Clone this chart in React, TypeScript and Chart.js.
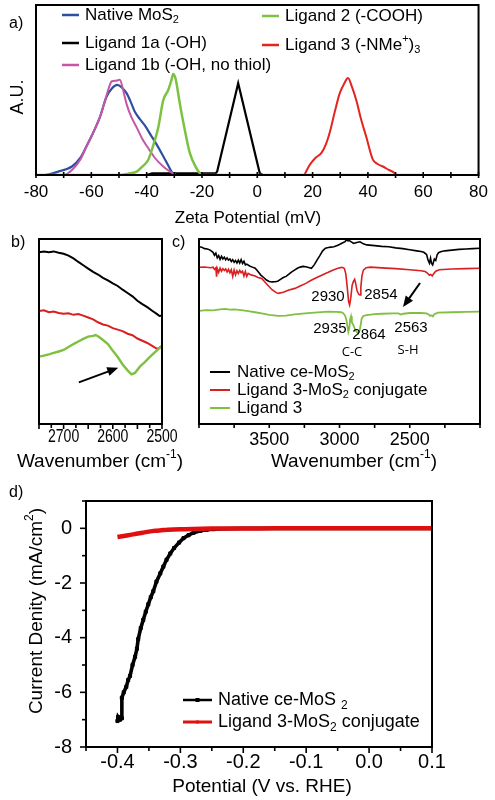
import React, { useEffect, useRef } from 'react';
import { Chart, registerables } from 'chart.js';
Chart.register(...registerables);

const FONT = '"Liberation Sans", Arial, Helvetica, sans-serif';
const NOTE_FONT = '"Open Sans", "Liberation Sans", sans-serif';

// ---------------- panel a : zeta potential ----------------
const zetaTicks = [-80, -70, -60, -50, -40, -30, -20, -10, 0, 10, 20, 30, 40, 50, 60, 70, 80];
const zetaLabels = [-80, -60, -40, -20, 0, 20, 40, 60, 80];
const zetaNames = ['Native MoS_{2}', 'Ligand 1a (-OH)', 'Ligand 1b (-OH, no thiol)', 'Ligand 2 (-COOH)', 'Ligand 3 (-NMe^{+})_{3}'];
const zetaColors = ['#2e4f9e', '#000000', '#c457a6', '#7cc242', '#e3241f'];

const zetaNativeX = [-80, -77, -72, -67, -64, -61.7, -59, -56.9, -54.5, -52.5, -50.6, -49, -47.2, -45.5, -44.2, -42.5, -40.6, -38.5, -36.4, -34, -32, -31, -30, 80];
const zetaNativeY = [0, 0, 0.02, 0.05, 0.1, 0.17, 0.26, 0.34, 0.46, 0.51, 0.53, 0.515, 0.48, 0.42, 0.37, 0.33, 0.29, 0.235, 0.18, 0.11, 0.05, 0.02, 0, 0];
const zeta1aX = [-40, -38, -20, -15, -14.5, -6.9, 0.9, 2, 80];
const zeta1aY = [0, 0.01, 0.01, 0.01, 0.02, 0.54, 0.01, 0, 0];
const zeta1bX = [-80, -70, -67, -64, -61.7, -59, -56.9, -55, -53.3, -52.7, -51, -49.7, -48.5, -47.3, -45.5, -43.6, -41.5, -39.5, -37, -34, -32, -30.5, -29, 80];
const zeta1bY = [0, 0, 0.03, 0.09, 0.17, 0.26, 0.34, 0.44, 0.53, 0.55, 0.555, 0.56, 0.5, 0.42, 0.34, 0.28, 0.21, 0.16, 0.1, 0.05, 0.025, 0.01, 0, 0];
const zeta2X = [-80, -50, -46, -43.6, -41.5, -39.4, -37.5, -35.8, -34, -32.2, -31, -30.4, -29.6, -29.2, -28, -26.2, -24.4, -22, -20.8, -20, 60];
const zeta2Y = [0, 0, 0.01, 0.02, 0.05, 0.09, 0.18, 0.28, 0.44, 0.5, 0.56, 0.594, 0.57, 0.54, 0.42, 0.265, 0.13, 0.04, 0.01, 0, 0];
const zeta3X = [17, 19, 21, 23.2, 24.8, 26.2, 28, 29.8, 31.5, 32.8, 34.2, 35.8, 37.5, 39.4, 41.8, 43.5, 45.4, 47.5, 49.7, 50];
const zeta3Y = [0, 0.06, 0.1, 0.13, 0.18, 0.25, 0.37, 0.48, 0.54, 0.57, 0.52, 0.44, 0.33, 0.225, 0.09, 0.065, 0.05, 0.03, 0.01, 0];

// ---------------- panel b : IR zoom 2750-2500 ----------------
const bTicks = [2750, 2725, 2700, 2675, 2650, 2625, 2600, 2575, 2550, 2525, 2500];
const bLabels = [2700, 2600, 2500];
const bBlackX = [2750, 2740, 2730, 2720, 2710, 2700, 2690, 2680, 2670, 2660, 2650, 2640, 2630, 2620, 2610, 2600, 2590, 2580, 2570, 2560, 2550, 2540, 2530, 2520, 2510, 2505, 2500];
const bBlackY = [92.8, 93.2, 92.9, 93.3, 92.6, 92.0, 91.0, 89.5, 87.6, 85.8, 84.0, 82.2, 80.8, 79.0, 77.6, 76.0, 74.6, 72.6, 70.8, 69.0, 66.6, 64.8, 63.2, 61.2, 59.4, 58.4, 58.6];
const bRedX = [2750, 2740, 2730, 2720, 2710, 2700, 2690, 2680, 2670, 2660, 2650, 2640, 2630, 2620, 2610, 2600, 2590, 2580, 2570, 2560, 2550, 2540, 2530, 2520, 2510, 2505, 2500];
const bRedY = [61.1, 61.5, 60.4, 60.8, 60.0, 59.6, 59.8, 59.0, 59.4, 58.6, 57.6, 56.6, 55.0, 53.8, 53.2, 51.8, 51.0, 50.2, 48.8, 48.0, 46.2, 45.0, 43.8, 42.2, 40.6, 41.2, 42.3];
const bGreenX = [2750, 2740, 2730, 2720, 2710, 2700, 2690, 2680, 2670, 2660, 2650, 2640, 2635, 2630, 2620, 2610, 2600, 2590, 2580, 2570, 2562, 2555, 2545, 2535, 2524, 2512, 2500];
const bGreenY = [36.4, 37.0, 37.6, 38.4, 39.2, 40.0, 41.6, 43.2, 44.6, 46.0, 47.2, 47.6, 48.1, 47.4, 45.4, 43.2, 39.6, 36.2, 32.2, 29.0, 26.8, 27.6, 31.0, 33.4, 36.4, 39.4, 42.3];
const bArrow = { fromX: 2669, fromY: 22.5, toX: 2589, toY: 30.4 };

// ---------------- panel c : full IR 4000-2000 ----------------
const cTicks = [4000, 3750, 3500, 3250, 3000, 2750, 2500, 2250, 2000];
const cLabels = [3500, 3000, 2500];
const cNames = ['Native ce-MoS_{2}', 'Ligand 3-MoS_{2} conjugate', 'Ligand 3'];
const cColors = ['#000000', '#d91f1f', '#80c040'];
const cBlackX = [4000, 3980, 3960, 3940, 3920, 3900, 3890, 3880, 3870, 3860, 3850, 3840, 3830, 3820, 3810, 3800, 3790, 3780, 3770, 3760, 3750, 3740, 3730, 3720, 3710, 3700, 3690, 3680, 3670, 3660, 3640, 3620, 3600, 3580, 3560, 3540, 3520, 3500, 3480, 3460, 3440, 3420, 3400, 3380, 3360, 3340, 3320, 3300, 3280, 3260, 3240, 3220, 3200, 3180, 3160, 3140, 3120, 3100, 3080, 3060, 3040, 3020, 3000, 2980, 2960, 2950, 2940, 2935, 2925, 2910, 2900, 2890, 2870, 2854, 2830, 2806, 2750, 2700, 2650, 2600, 2550, 2500, 2450, 2420, 2400, 2380, 2370, 2360, 2352, 2345, 2337, 2325, 2315, 2305, 2295, 2280, 2250, 2200, 2150, 2100, 2050, 2000];
const cBlackY = [95.8, 95.5, 94.8, 94.6, 94.0, 92.8, 91.2, 92.4, 89.8, 91.0, 89.0, 90.6, 89.2, 90.2, 88.8, 89.8, 88.6, 89.2, 87.8, 88.8, 87.4, 88.4, 87.0, 88.6, 87.0, 88.8, 86.8, 88.0, 86.0, 86.4, 85.4, 84.8, 84.2, 82.4, 80.5, 79.2, 77.8, 77.0, 76.8, 76.9, 77.2, 78.2, 79.2, 79.8, 81.0, 82.2, 83.2, 84.2, 84.8, 85.2, 85.0, 84.6, 84.2, 86.0, 88.6, 91.0, 93.6, 95.0, 95.4, 95.6, 95.8, 96.4, 97.0, 97.8, 98.6, 99.6, 99.0, 100.4, 98.8, 98.2, 97.6, 97.8, 98.2, 98.5, 97.4, 96.8, 96.4, 96.0, 95.8, 95.2, 94.8, 94.2, 93.6, 93.2, 92.8, 91.6, 88.6, 86.9, 89.6, 86.8, 86.0, 89.2, 88.4, 91.4, 92.6, 93.1, 93.6, 94.0, 94.4, 94.6, 94.8, 95.0];
const cRedX = [4000, 3960, 3920, 3900, 3890, 3880, 3875, 3870, 3860, 3850, 3840, 3830, 3820, 3810, 3800, 3790, 3780, 3770, 3760, 3750, 3740, 3730, 3720, 3710, 3700, 3690, 3680, 3670, 3660, 3650, 3630, 3600, 3580, 3554, 3520, 3480, 3450, 3436, 3400, 3360, 3317, 3280, 3240, 3198, 3150, 3100, 3080, 3040, 3000, 2980, 2965, 2955, 2945, 2935, 2928, 2920, 2910, 2900, 2892, 2885, 2875, 2862, 2854, 2848, 2840, 2830, 2810, 2780, 2700, 2600, 2500, 2420, 2390, 2375, 2360, 2350, 2340, 2330, 2315, 2290, 2200, 2100, 2000];
const cRedY = [84.7, 84.9, 84.5, 84.8, 83.6, 84.4, 79.6, 84.0, 82.0, 84.2, 82.6, 84.0, 83.0, 83.8, 82.2, 83.6, 81.8, 83.4, 79.8, 83.2, 80.6, 82.8, 81.4, 83.0, 81.8, 82.6, 80.0, 82.4, 79.8, 81.4, 80.6, 80.0, 79.2, 78.7, 75.8, 72.6, 71.0, 70.6, 71.2, 72.4, 73.3, 74.6, 76.0, 77.8, 79.6, 81.4, 82.0, 83.4, 84.4, 84.7, 84.0, 81.0, 74.0, 66.0, 64.3, 68.0, 75.0, 77.2, 78.2, 76.0, 72.0, 70.0, 69.7, 74.0, 80.2, 83.2, 84.5, 84.8, 84.4, 84.0, 83.4, 82.8, 82.4, 81.6, 80.4, 80.8, 80.0, 81.2, 82.6, 83.4, 83.8, 84.0, 84.2];
const cGreenX = [4000, 3950, 3900, 3850, 3815, 3780, 3750, 3700, 3650, 3600, 3554, 3500, 3436, 3380, 3320, 3246, 3180, 3080, 3020, 2990, 2975, 2960, 2950, 2942, 2937, 2930, 2924, 2918, 2912, 2902, 2890, 2876, 2866, 2856, 2848, 2842, 2830, 2806, 2750, 2700, 2620, 2580, 2563, 2545, 2500, 2420, 2380, 2365, 2356, 2345, 2335, 2325, 2300, 2200, 2100, 2000];
const cGreenY = [61.1, 61.6, 61.4, 62.0, 62.2, 61.8, 62.0, 61.6, 61.0, 60.4, 59.8, 59.0, 58.4, 58.6, 59.2, 59.8, 60.2, 60.7, 60.6, 60.4, 60.0, 58.6, 56.0, 52.0, 49.9, 52.0, 56.6, 58.2, 55.0, 53.6, 51.2, 49.6, 49.0, 50.8, 54.0, 57.1, 58.4, 58.9, 59.4, 59.6, 59.8, 59.8, 59.2, 59.6, 60.0, 60.0, 59.8, 59.2, 58.4, 58.8, 58.2, 59.4, 60.2, 60.4, 60.6, 60.7];
const cNotes = [
  { text: '2930', x: 3082, y: 68.6 },
  { text: '2854', x: 2705, y: 69.7 },
  { text: '2935', x: 3068, y: 51.4 },
  { text: '2864', x: 2790, y: 48.1 },
  { text: '2563', x: 2491, y: 51.9 },
];
const cBondNotes = [
  { text: 'C-C', x: 2911, y: 38.9 },
  { text: 'S-H', x: 2512, y: 40.0 },
];
const cArrow = { fromX: 2427, fromY: 76.2, toX: 2548, toY: 63.2 };

// ---------------- panel d : polarization curves ----------------
const dTicksX = [-0.45, -0.4, -0.35, -0.3, -0.25, -0.2, -0.15, -0.1, -0.05, 0, 0.05, 0.1];
const dTicksY = [-8, -7, -6, -5, -4, -3, -2, -1, 0, 1];
const dNames = ['Native ce-MoS _{2}', 'Ligand 3-MoS_{2} conjugate'];
const dColors = ['#000000', '#e01010'];
const dNativeX = [-0.4, -0.399, -0.396, -0.393, -0.393, -0.39, -0.386, -0.383, -0.38, -0.376, -0.372, -0.369, -0.367, -0.363, -0.359, -0.355, -0.351, -0.347, -0.343, -0.338, -0.332, -0.327, -0.322, -0.316, -0.31, -0.302, -0.295, -0.287, -0.279, -0.268, -0.258, -0.247, -0.237, -0.22, -0.2, -0.15, -0.1, -0.05, 0, 0.05, 0.1];
const dNativeY = [-7.05, -6.9, -7.0, -6.95, -6.2, -6.0, -5.8, -5.55, -5.4, -5.0, -4.7, -4.4, -4.05, -3.65, -3.35, -3.05, -2.78, -2.52, -2.3, -1.95, -1.65, -1.4, -1.15, -0.92, -0.72, -0.52, -0.36, -0.25, -0.16, -0.09, -0.05, -0.03, -0.02, -0.01, 0, 0, 0, 0, 0, 0, 0];
const dLigX = [-0.4, -0.39, -0.38, -0.37, -0.36, -0.35, -0.34, -0.33, -0.32, -0.3, -0.28, -0.25, -0.2, -0.15, -0.1, -0.05, 0, 0.05, 0.1];
const dLigY = [-0.32, -0.28, -0.24, -0.2, -0.16, -0.12, -0.09, -0.07, -0.05, -0.03, -0.02, -0.01, -0.01, 0, 0, 0, 0, 0, 0];

// ---------------- helpers ----------------
type Seg = { t: string; s?: 'sub' | 'sup' };
function parseRich(str: string): Seg[] {
  const out: Seg[] = [];
  const re = /([_^])\{([^}]*)\}/g;
  let last = 0;
  let m: RegExpExecArray | null;
  while ((m = re.exec(str))) {
    if (m.index > last) out.push({ t: str.slice(last, m.index) });
    out.push({ t: m[2], s: m[1] === '_' ? 'sub' : 'sup' });
    last = re.lastIndex;
  }
  if (last < str.length) out.push({ t: str.slice(last) });
  return out;
}
function drawRich(ctx: CanvasRenderingContext2D, str: string, x: number, y: number, size: number, align: 'left' | 'center' = 'left', family = FONT, sx = 1) {
  const segs = parseRich(str);
  ctx.save();
  ctx.fillStyle = '#000';
  ctx.textBaseline = 'middle';
  ctx.textAlign = 'left';
  const widths = segs.map((sg) => {
    ctx.font = `${sg.s ? Math.round(size * 0.65) : size}px ${family}`;
    return ctx.measureText(sg.t).width;
  });
  const total = widths.reduce((a, b) => a + b, 0);
  ctx.translate(x, y);
  ctx.scale(sx, 1);
  let cx = align === 'center' ? -total / 2 : 0;
  segs.forEach((sg, i) => {
    ctx.font = `${sg.s ? Math.round(size * 0.65) : size}px ${family}`;
    const dy = sg.s === 'sub' ? size * 0.3 : sg.s === 'sup' ? -size * 0.36 : 0;
    ctx.fillText(sg.t, cx, dy);
    cx += widths[i];
  });
  ctx.restore();
}
function drawRotated(ctx: CanvasRenderingContext2D, str: string, x: number, y: number, size: number) {
  ctx.save();
  ctx.translate(x, y);
  ctx.rotate(-Math.PI / 2);
  drawRich(ctx, str, 0, 0, size, 'center');
  ctx.restore();
}
function drawFrame(chart: any) {
  const { ctx, chartArea: a } = chart;
  ctx.save();
  ctx.strokeStyle = '#000';
  ctx.lineWidth = 2;
  ctx.strokeRect(a.left, a.top, a.right - a.left, a.bottom - a.top);
  ctx.restore();
}
function drawXTicks(chart: any, isMajor: (v: number) => boolean, major: [number, number], minor: [number, number]) {
  const { ctx, chartArea: a, scales } = chart;
  const s = scales.x;
  ctx.save();
  ctx.strokeStyle = '#000';
  ctx.lineWidth = 1.6;
  s.ticks.forEach((t: any) => {
    const px = s.getPixelForValue(t.value);
    const [up, down] = isMajor(t.value) ? major : minor;
    ctx.beginPath();
    ctx.moveTo(px, a.bottom - up);
    ctx.lineTo(px, a.bottom + down);
    ctx.stroke();
  });
  ctx.restore();
}
function drawYTicks(chart: any, isMajor: (v: number) => boolean, major: number, minor: number) {
  const { ctx, chartArea: a, scales } = chart;
  const s = scales.y;
  ctx.save();
  ctx.strokeStyle = '#000';
  ctx.lineWidth = 1.6;
  s.ticks.forEach((t: any) => {
    const py = s.getPixelForValue(t.value);
    const len = isMajor(t.value) ? major : minor;
    ctx.beginPath();
    ctx.moveTo(a.left, py);
    ctx.lineTo(a.left - len, py);
    ctx.stroke();
  });
  ctx.restore();
}
function drawArrow(ctx: CanvasRenderingContext2D, x1: number, y1: number, x2: number, y2: number) {
  const ang = Math.atan2(y2 - y1, x2 - x1);
  const head = 11;
  const hw = 4.5;
  ctx.save();
  ctx.strokeStyle = '#000';
  ctx.fillStyle = '#000';
  ctx.lineWidth = 2;
  ctx.beginPath();
  ctx.moveTo(x1, y1);
  ctx.lineTo(x2 - Math.cos(ang) * head * 0.8, y2 - Math.sin(ang) * head * 0.8);
  ctx.stroke();
  ctx.beginPath();
  ctx.moveTo(x2, y2);
  ctx.lineTo(x2 - Math.cos(ang) * head - Math.sin(ang) * hw, y2 - Math.sin(ang) * head + Math.cos(ang) * hw);
  ctx.lineTo(x2 - Math.cos(ang) * head + Math.sin(ang) * hw, y2 - Math.sin(ang) * head - Math.cos(ang) * hw);
  ctx.closePath();
  ctx.fill();
  ctx.restore();
}
function legendLine(ctx: CanvasRenderingContext2D, x1: number, x2: number, y: number, color: string, width: number, marker = 0) {
  ctx.save();
  ctx.strokeStyle = color;
  ctx.fillStyle = color;
  ctx.lineWidth = width;
  ctx.beginPath();
  ctx.moveTo(x1, y);
  ctx.lineTo(x2, y);
  ctx.stroke();
  if (marker) ctx.fillRect((x1 + x2) / 2 - marker, y - marker, marker * 2, marker * 2);
  ctx.restore();
}
const pts = (xs: number[], ys: number[]) => xs.map((x, i) => ({ x, y: ys[i] }));
const hidden = { display: false, drawTicks: false };
const noBorder = { display: false };

function baseOptions(padTop: number, padRight: number) {
  return {
    responsive: false,
    animation: false as const,
    events: [] as any[],
    layout: { padding: { top: padTop, right: padRight, left: 0, bottom: 0 } },
    plugins: { legend: { display: false }, tooltip: { enabled: false } },
    elements: { point: { radius: 0 } },
  };
}

// ---------------- chart configs ----------------
function makeA(): any {
  const o: any = baseOptions(5, 16);
  o.scales = {
    x: {
      type: 'linear', min: -80, max: 80,
      afterBuildTicks: (s: any) => { s.ticks = zetaTicks.map((v) => ({ value: v })); },
      afterFit: (s: any) => { s.height = 53; },
      ticks: { autoSkip: false, maxRotation: 0, padding: 7, color: '#000', font: { family: FONT, size: 17 }, callback: (v: any) => (zetaLabels.includes(v) ? String(v) : '') },
      grid: hidden, border: noBorder,
    },
    y: {
      type: 'linear', min: 0, max: 1,
      afterFit: (s: any) => { s.width = 36; },
      ticks: { display: false }, grid: hidden, border: noBorder,
    },
  };
  return {
    type: 'line',
    data: {
      datasets: [
        { data: pts(zeta2X, zeta2Y), borderColor: zetaColors[3], borderWidth: 2.5, cubicInterpolationMode: 'monotone', order: 0 },
        { data: pts(zeta1bX, zeta1bY), borderColor: zetaColors[2], borderWidth: 2, cubicInterpolationMode: 'monotone', order: 1 },
        { data: pts(zetaNativeX, zetaNativeY), borderColor: zetaColors[0], borderWidth: 2.2, cubicInterpolationMode: 'monotone', order: 2 },
        { data: pts(zeta1aX, zeta1aY), borderColor: zetaColors[1], borderWidth: 2.2, tension: 0, order: 3 },
        { data: pts(zeta3X, zeta3Y), borderColor: zetaColors[4], borderWidth: 2, cubicInterpolationMode: 'monotone', order: 4 },
      ],
    },
    options: o,
    plugins: [{
      id: 'overlayA',
      afterDraw(chart: any) {
        const ctx = chart.ctx;
        drawFrame(chart);
        drawXTicks(chart, () => true, [3, 3], [3, 3]);
        drawRich(ctx, 'a)', 9, 24, 16);
        drawRotated(ctx, 'A.U.', 18, 97, 18);
        drawRich(ctx, 'Zeta Potential (mV)', 248, 218, 17, 'center');
        const left = [0, 1, 2];
        const leftY = [15, 43, 65];
        left.forEach((k, i) => {
          legendLine(ctx, 62, 79, leftY[i], zetaColors[k], 2.5);
          drawRich(ctx, zetaNames[k], 85, leftY[i], 17);
        });
        const right = [3, 4];
        const rightY = [16, 45];
        right.forEach((k, i) => {
          legendLine(ctx, 262, 279, rightY[i], zetaColors[k], 2.5);
          drawRich(ctx, zetaNames[k], 285, rightY[i], 17);
        });
      },
    }],
  };
}

function makeB(): any {
  const o: any = baseOptions(11, 38);
  o.scales = {
    x: {
      type: 'linear', min: 2500, max: 2750, reverse: true,
      afterBuildTicks: (s: any) => { s.ticks = bTicks.map((v) => ({ value: v })); },
      afterFit: (s: any) => { s.height = 51; },
      ticks: { display: false }, grid: hidden, border: noBorder,
    },
    y: {
      type: 'linear', min: 0, max: 100,
      afterFit: (s: any) => { s.width = 39; },
      ticks: { display: false }, grid: hidden, border: noBorder,
    },
  };
  return {
    type: 'line',
    data: {
      datasets: [
        { data: pts(bGreenX, bGreenY), borderColor: cColors[2], borderWidth: 2.4, tension: 0 },
        { data: pts(bRedX, bRedY), borderColor: cColors[1], borderWidth: 2, tension: 0 },
        { data: pts(bBlackX, bBlackY), borderColor: cColors[0], borderWidth: 2, tension: 0 },
      ],
    },
    options: o,
    plugins: [{
      id: 'overlayB',
      afterDraw(chart: any) {
        const { ctx, chartArea: a, scales } = chart;
        drawFrame(chart);
        drawXTicks(chart, (v) => v % 50 === 0, [0, 5], [0, 4]);
        bLabels.forEach((v) => {
          drawRich(ctx, String(v), scales.x.getPixelForValue(v), a.bottom + 13, 18, 'center', FONT, 0.78);
        });
        drawRich(ctx, 'b)', 11, 15, 16);
        drawRich(ctx, 'Wavenumber (cm^{-1})', 100, 234, 19, 'center');
        drawArrow(ctx, scales.x.getPixelForValue(bArrow.fromX), scales.y.getPixelForValue(bArrow.fromY), scales.x.getPixelForValue(bArrow.toX), scales.y.getPixelForValue(bArrow.toY));
      },
    }],
  };
}

function makeC(): any {
  const o: any = baseOptions(11, 15);
  o.scales = {
    x: {
      type: 'linear', min: 2000, max: 4000, reverse: true,
      afterBuildTicks: (s: any) => { s.ticks = cTicks.map((v) => ({ value: v })); },
      afterFit: (s: any) => { s.height = 51; },
      ticks: { autoSkip: false, maxRotation: 0, padding: 5, color: '#000', font: { family: FONT, size: 18 }, callback: (v: any) => (cLabels.includes(v) ? String(v) : '') },
      grid: hidden, border: noBorder,
    },
    y: {
      type: 'linear', min: 0, max: 100,
      afterFit: (s: any) => { s.width = 29; },
      ticks: { display: false }, grid: hidden, border: noBorder,
    },
  };
  return {
    type: 'line',
    data: {
      datasets: [
        { data: pts(cBlackX, cBlackY), borderColor: cColors[0], borderWidth: 1.6, tension: 0 },
        { data: pts(cRedX, cRedY), borderColor: cColors[1], borderWidth: 1.6, tension: 0 },
        { data: pts(cGreenX, cGreenY), borderColor: cColors[2], borderWidth: 1.8, tension: 0 },
      ],
    },
    options: o,
    plugins: [{
      id: 'overlayC',
      afterDraw(chart: any) {
        const { ctx, scales } = chart;
        drawFrame(chart);
        drawXTicks(chart, () => true, [0, 4], [0, 4]);
        drawRich(ctx, 'c)', 2, 15, 16);
        drawRich(ctx, 'Wavenumber (cm^{-1})', 184, 234, 19, 'center');
        cNotes.forEach((n) => drawRich(ctx, n.text, scales.x.getPixelForValue(n.x), scales.y.getPixelForValue(n.y), 15, 'center'));
        cBondNotes.forEach((n) => drawRich(ctx, n.text, scales.x.getPixelForValue(n.x), scales.y.getPixelForValue(n.y), 13, 'center', NOTE_FONT));
        drawArrow(ctx, scales.x.getPixelForValue(cArrow.fromX), scales.y.getPixelForValue(cArrow.fromY), scales.x.getPixelForValue(cArrow.toX), scales.y.getPixelForValue(cArrow.toY));
        const rows = [144, 162, 180];
        cNames.forEach((name, i) => {
          legendLine(ctx, 40, 60, rows[i], cColors[i], 2);
          drawRich(ctx, name, 67, rows[i], 17);
        });
      },
    }],
  };
}

function makeD(): any {
  const o: any = baseOptions(15, 63);
  const isTenth = (v: number) => Math.abs(v * 10 - Math.round(v * 10)) < 1e-6;
  o.scales = {
    x: {
      type: 'linear', min: -0.45, max: 0.1,
      afterBuildTicks: (s: any) => { s.ticks = dTicksX.map((v) => ({ value: v })); },
      afterFit: (s: any) => { s.height = 53; },
      ticks: { autoSkip: false, maxRotation: 0, padding: 3, color: '#000', font: { family: FONT, size: 20 }, callback: (v: any) => (isTenth(v) ? Number(v).toFixed(1) : '') },
      grid: hidden, border: noBorder,
    },
    y: {
      type: 'linear', min: -8, max: 1,
      afterBuildTicks: (s: any) => { s.ticks = dTicksY.map((v) => ({ value: v })); },
      afterFit: (s: any) => { s.width = 86; },
      ticks: { autoSkip: false, padding: 14, color: '#000', font: { family: FONT, size: 20 }, callback: (v: any) => (v % 2 === 0 && v <= 0 ? String(v) : '') },
      grid: hidden, border: noBorder,
    },
  };
  return {
    type: 'line',
    data: {
      datasets: [
        { data: pts(dLigX, dLigY), borderColor: dColors[1], borderWidth: 4.5, tension: 0.3, order: 0 },
        {
          data: pts(dNativeX, dNativeY), borderColor: dColors[0], backgroundColor: dColors[0], borderWidth: 3.6, tension: 0,
          pointStyle: 'rect', pointBorderWidth: 1,
          pointRadius: (c: any) => (c.raw && c.raw.x > -0.24 ? 0 : 2.2),
          order: 1,
        },
      ],
    },
    options: o,
    plugins: [{
      id: 'overlayD',
      afterDraw(chart: any) {
        const ctx = chart.ctx;
        drawFrame(chart);
        drawXTicks(chart, isTenth, [0, 6], [0, 4]);
        drawYTicks(chart, (v) => v % 2 === 0, 6, 4);
        drawRich(ctx, 'd)', 9, 18, 16);
        drawRotated(ctx, 'Current Denity (mA/cm^{2})', 37, 136, 19);
        drawRich(ctx, 'Potential (V vs. RHE)', 262, 312, 19, 'center');
        const rows = [225, 247];
        dNames.forEach((name, i) => {
          legendLine(ctx, 183, 212, rows[i], dColors[i], i === 0 ? 2.5 : 3, i === 0 ? 2 : 1.5);
          drawRich(ctx, name, 218, rows[i], 18);
        });
      },
    }],
  };
}

function ChartCanvas({ left, top, width, height, make }: { left: number; top: number; width: number; height: number; make: () => any }) {
  const ref = useRef<HTMLCanvasElement>(null);
  useEffect(() => {
    const chart = new Chart(ref.current as HTMLCanvasElement, make());
    return () => chart.destroy();
  }, [make]);
  return <canvas ref={ref} width={width} height={height} style={{ position: 'absolute', left, top, width, height }} />;
}

export default function App() {
  return (
    <div style={{ position: 'absolute', left: 0, top: 0, width: 495, height: 800, background: '#fff', overflow: 'hidden' }}>
      <ChartCanvas left={0} top={0} width={495} height={228} make={makeA} />
      <ChartCanvas left={0} top={228} width={200} height={247} make={makeB} />
      <ChartCanvas left={170} top={228} width={325} height={247} make={makeC} />
      <ChartCanvas left={0} top={475} width={495} height={325} make={makeD} />
    </div>
  );
}
